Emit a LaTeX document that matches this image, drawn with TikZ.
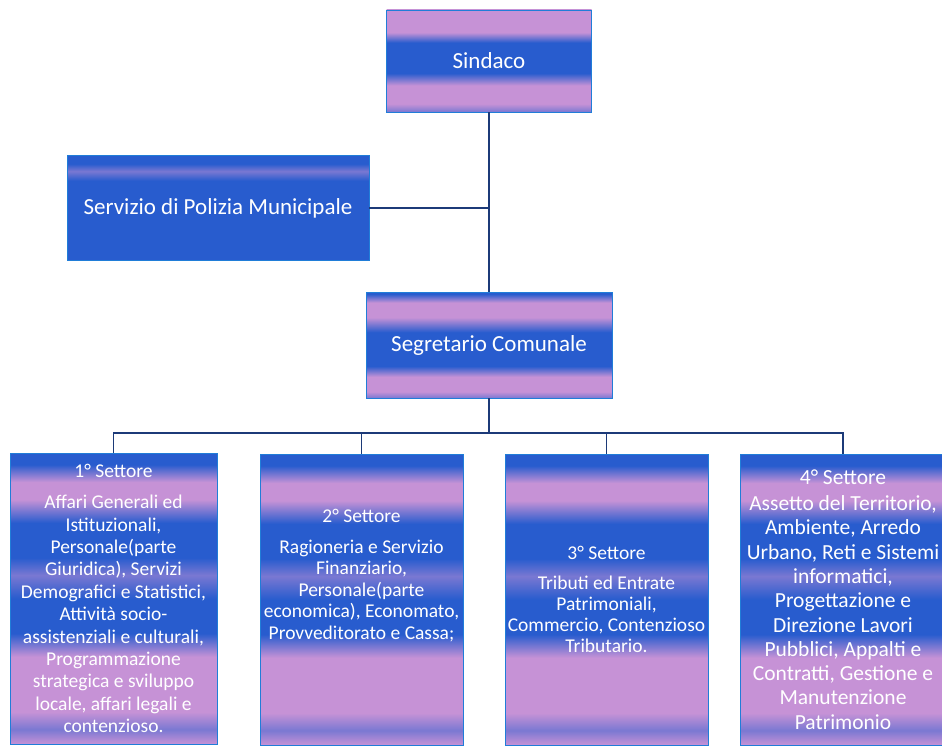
\documentclass[tikz,border=0pt]{standalone}
\usepackage{fontspec}
\setmainfont{Carlito}
\usepackage{tikz}
\usetikzlibrary{positioning}

\definecolor{bandblue}{RGB}{40,92,206}
\definecolor{bandpink}{RGB}{198,146,214}
\definecolor{bandmix}{RGB}{122,120,210}
\definecolor{wirecol}{RGB}{28,58,120}

% scanned stripes (0bp bottom, 25..75bp = box)
\pgfdeclareverticalshading{sindacobands}{100bp}{color(0bp)=(bandblue); color(25bp)=(bandmix); color(29bp)=(bandpink); color(38bp)=(bandpink); color(44bp)=(bandblue); color(59bp)=(bandblue); color(64bp)=(bandpink); color(100bp)=(bandpink)}
\pgfdeclareverticalshading{poliziabands}{100bp}{color(0bp)=(bandblue); color(63bp)=(bandblue); color(67.5bp)=(bandmix); color(71bp)=(bandblue); color(100bp)=(bandblue)}
\pgfdeclareverticalshading{segrbands}{100bp}{color(0bp)=(bandmix); color(25bp)=(bandmix); color(28bp)=(bandpink); color(35bp)=(bandpink); color(40bp)=(bandblue); color(56bp)=(bandblue); color(63bp)=(bandpink); color(70bp)=(bandpink); color(74bp)=(bandblue); color(100bp)=(bandblue)}
\pgfdeclareverticalshading{settorebands}{100bp}{color(0bp)=(bandpink); color(25bp)=(bandpink); color(27.5bp)=(bandmix); color(30.5bp)=(bandpink); color(40bp)=(bandpink); color(44bp)=(bandblue); color(50bp)=(bandblue); color(54bp)=(bandmix); color(57bp)=(bandblue); color(63bp)=(bandblue); color(67bp)=(bandpink); color(70bp)=(bandpink); color(73bp)=(bandblue); color(100bp)=(bandblue)}

\begin{document}
\begin{tikzpicture}[
        x=1pt, y=-1pt,
        topbox/.style={draw=bandblue!80!cyan, line width=0.8pt, text=white, align=center,
                       font=\fontsize{23}{28}\selectfont},
        settore/.style={draw=bandblue!80!cyan, line width=0.8pt, shading=settorebands, text=white,
                        align=center, minimum height=291pt, inner sep=2pt},
        wire/.style={draw=wirecol, line width=1.2pt}
    ]
    \useasboundingbox (0,0) rectangle (942,746);

    % Vertice
    \node[topbox, shading=sindacobands, minimum width=205pt, minimum height=102pt] (sindaco) at (489, 61) {Sindaco};
    \node[topbox, shading=poliziabands, minimum width=302pt, minimum height=105pt] (polizia) at (218, 208) {Servizio di Polizia Municipale};
    \node[topbox, shading=segrbands, minimum width=246pt, minimum height=106pt] (segr) at (489, 345) {Segretario Comunale};

    % Settori
    \node[settore, minimum width=207pt, font=\fontsize{19.5}{22.4}\selectfont] (s1) at (113.5, 598.5)
        {1° Settore\\[9pt]Affari Generali ed\\Istituzionali,\\Personale(parte\\Giuridica), Servizi\\Demografici e Statistici,\\Attività socio-\\assistenziali e culturali,\\Programmazione\\strategica e sviluppo\\locale, affari legali e\\contenzioso.};
    \node[settore, minimum width=203pt, font=\fontsize{19.5}{21.5}\selectfont] (s2) at (361.5, 599.5)
        {2° Settore\\[9pt]Ragioneria e Servizio\\Finanziario,\\Personale(parte\\economica), Economato,\\Provveditorato e Cassa;\rule[-50pt]{0pt}{0pt}};
    \node[settore, minimum width=203pt, font=\fontsize{19.5}{21}\selectfont] (s3) at (606.5, 599.5)
        {3° Settore\\[9pt]Tributi ed Entrate\\Patrimoniali,\\Commercio, Contenzioso\\Tributario.};
    \node[settore, minimum width=206pt, font=\fontsize{21.5}{24.3}\selectfont] (s4) at (843, 599.5)
        {4° Settore\\[2pt]Assetto del Territorio,\\Ambiente, Arredo\\Urbano, Reti e Sistemi\\informatici,\\Progettazione e\\Direzione Lavori\\Pubblici, Appalti e\\Contratti, Gestione e\\Manutenzione\\Patrimonio};

    % Collegamenti
    \coordinate (bus) at (489, 433);
    \draw[wire] (sindaco.south) -- (segr.north);
    \draw[wire] (polizia.east) -- (polizia.east -| sindaco.south);
    \draw[wire] (segr.south) -- (bus);
    \foreach \s in {s1, s2, s3, s4}
        \draw[wire] (bus) -| (\s.north);

\end{tikzpicture}
\end{document}
